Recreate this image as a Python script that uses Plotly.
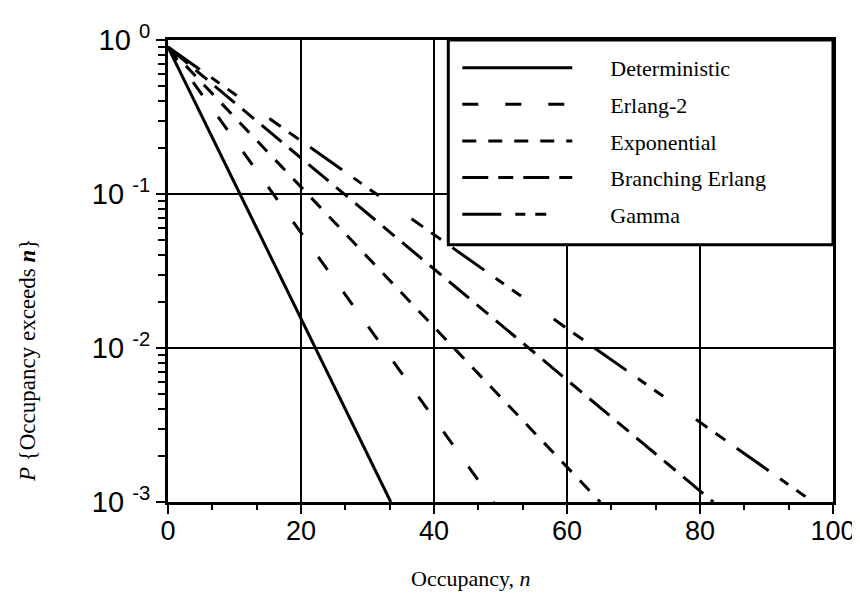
import plotly.graph_objects as go

# probabilities read at the start, the 10^-1 and 10^-2 grid lines, and the bottom edge
p_levels = [0.9, 0.1, 0.01, 0.001]

# occupancy n where each curve reaches those probabilities
det_n = [0, 10.8, 22.2, 33.5]
erl2_n = [0, 15.8, 32.4, 49]
exp_n = [0, 21.0, 43.0, 65]
berl_n = [0, 26.5, 54.2, 82]
gam_n = [0, 31.3, 64.2, 97]

names = ["Deterministic", "Erlang-2", "Exponential", "Branching Erlang", "Gamma"]
xs = [det_n, erl2_n, exp_n, berl_n, gam_n]
dashes = [
    "solid",
    "16px,27px",
    "14px,12px",
    "26px,10px,15px,10px",
    "39px,14px,10px,10px,11px,40px,14px,10px,12px,14px",
]

y_ticks = [0.001, 0.01, 0.1, 1]
y_text = ["10\u00a0<sup>-3</sup>", "10\u00a0<sup>-2</sup>",
          "10\u00a0<sup>-1</sup>", "10\u00a0<sup>0</sup>"]

serif = "Liberation Serif, Times New Roman, serif"
pad = "\u00a0" * 6  # push legend text away from the line samples

fig = go.Figure()
for name, x, d in zip(names, xs, dashes):
    fig.add_trace(go.Scatter(
        x=x, y=p_levels, mode="lines", name=pad + name, legendgroup=name,
        line=dict(color="black", width=3, dash=d),
    ))

# page body adds an 8px offset, so margins are reduced accordingly
fig.update_layout(
    width=860, height=606,
    margin=dict(l=160, r=31, t=27, b=112),
    paper_bgcolor="white", plot_bgcolor="white",
    font=dict(family="Liberation Sans, Arial", color="black", size=27),
    showlegend=True,
    legend=dict(
        x=0.435, y=0.985, xanchor="left", yanchor="top",
        bgcolor="rgba(0,0,0,0)", borderwidth=0,
        font=dict(family=serif, size=22, color="black"),
        itemwidth=110, tracegroupgap=5,
    ),
    shapes=[dict(
        type="rect", xref="paper", yref="paper",
        x0=0.4215, x1=1.0, y0=0.557, y1=1.0,
        line=dict(color="black", width=3), fillcolor="white", layer="above",
    )],
    annotations=[
        dict(text="Occupancy, <i>n</i>", xref="paper", yref="paper",
             x=0.455, y=-0.165, xanchor="center", yanchor="middle", showarrow=False,
             font=dict(family=serif, size=22)),
        dict(text="<i>P</i> {Occupancy exceeds <b><i>n</i></b>}", xref="paper", yref="paper",
             x=-0.212, y=0.305, xanchor="center", yanchor="middle", showarrow=False,
             textangle=-90,
             font=dict(family=serif, size=23)),
    ],
)

fig.update_xaxes(
    range=[0, 100], tickvals=[0, 20, 40, 60, 80, 100],
    showgrid=True, gridcolor="black", gridwidth=2,
    showline=True, linecolor="black", linewidth=3, mirror=True,
    ticks="outside", ticklen=9, tickwidth=2, tickcolor="black",
    ticklabelstandoff=-6,
    minor=dict(dtick=20 / 3, ticks="outside", ticklen=5, tickwidth=2,
               tickcolor="black", showgrid=False),
    zeroline=False,
)
fig.update_yaxes(
    type="log", range=[-3, 0], tickvals=y_ticks, ticktext=y_text,
    tickfont=dict(size=29),
    showgrid=True, gridcolor="black", gridwidth=2,
    showline=True, linecolor="black", linewidth=3, mirror=True,
    ticks="outside", ticklen=9, tickwidth=2, tickcolor="black",
    minor=dict(dtick="D1", ticks="outside", ticklen=7, tickwidth=2,
               tickcolor="black", showgrid=False),
    zeroline=False,
)

fig.write_html("out.html")
